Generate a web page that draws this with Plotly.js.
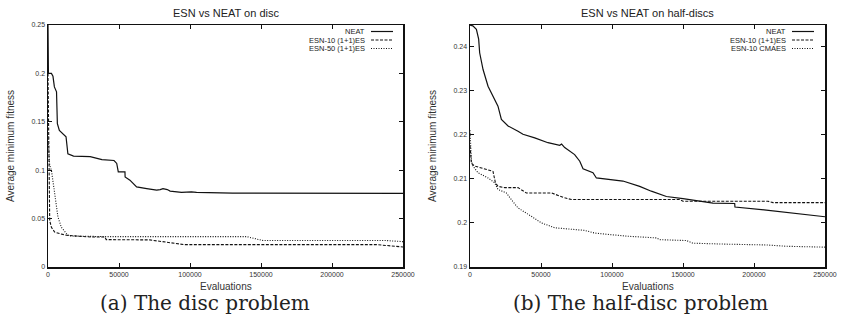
<!DOCTYPE html>
<html>
<head>
<meta charset="utf-8">
<script src="https://cdn.plot.ly/plotly-3.0.1.min.js"></script>
<style>html,body{margin:0;padding:0;background:#fff;} #chart{width:842px;height:320px;}</style>
</head>
<body>
<div id="chart"></div>
<script>
// ---- Data (a) disc problem ----
const discNeatX = [0, 100, 300, 2400, 3500, 4500, 6000, 6600, 8000, 12700, 14000, 18000, 29700, 38000, 46500, 48400, 49500, 54200, 54300, 57700, 62400, 69500, 76500, 79000, 81000, 84000, 86000, 94000, 101000, 104600, 130000, 250000];
const discNeatY = [0.25, 0.22, 0.2, 0.2, 0.197, 0.186, 0.181, 0.148, 0.141, 0.1346, 0.117, 0.1146, 0.114, 0.111, 0.110, 0.107, 0.0983, 0.0983, 0.093, 0.0897, 0.0828, 0.081, 0.0794, 0.080, 0.081, 0.080, 0.0784, 0.077, 0.0776, 0.077, 0.0763, 0.076];
const discEsn10X = [0, 500, 1000, 1200, 2400, 4700, 8200, 13000, 20000, 30000, 40000, 41000, 71700, 78700, 86000, 93500, 96000, 231500, 250000];
const discEsn10Y = [0.2, 0.12, 0.07, 0.048, 0.041, 0.036, 0.0345, 0.0328, 0.032, 0.031, 0.031, 0.0283, 0.028, 0.0266, 0.0255, 0.0238, 0.0231, 0.0231, 0.0207];
const discEsn50X = [0, 600, 1200, 2400, 3500, 4700, 7000, 9400, 13000, 15000, 40000, 139800, 151500, 238500, 250000];
const discEsn50Y = [0.135, 0.115, 0.105, 0.1, 0.09, 0.076, 0.0517, 0.041, 0.0345, 0.032, 0.0314, 0.0314, 0.0273, 0.0273, 0.0262];

// ---- Data (b) half-disc problem ----
const halfNeatX = [0, 2000, 4500, 6100, 6800, 9200, 12700, 17400, 19700, 22100, 26800, 33800, 37300, 45600, 54900, 63200, 64500, 66700, 73700, 77300, 79600, 86600, 89000, 107700, 119500, 127700, 138300, 150000, 171100, 186400, 186600, 208700, 232200, 250000];
const halfNeatY = [0.2449, 0.2447, 0.2439, 0.2417, 0.2386, 0.2348, 0.2310, 0.2280, 0.2265, 0.2235, 0.2220, 0.2208, 0.2201, 0.2193, 0.2182, 0.2176, 0.2179, 0.2171, 0.2155, 0.2140, 0.2123, 0.2114, 0.2102, 0.2095, 0.2083, 0.2072, 0.2060, 0.2055, 0.2045, 0.2044, 0.2036, 0.2029, 0.2021, 0.2014];
const halfEsnX = [0, 1000, 3300, 16200, 17900, 19700, 24500, 33800, 39700, 57300, 66700, 71400, 147700, 150000, 209900, 213400, 250000];
const halfEsnY = [0.2175, 0.2135, 0.2129, 0.2117, 0.2091, 0.2083, 0.2080, 0.2080, 0.2068, 0.2068, 0.2057, 0.2053, 0.2053, 0.2049, 0.2049, 0.2046, 0.2046];
const halfCmaX = [0, 1000, 2100, 5600, 12700, 17400, 19700, 25600, 29100, 33800, 43200, 50300, 59700, 71400, 80800, 87800, 110100, 131300, 133600, 152400, 157000, 178200, 208700, 222800, 250000];
const halfCmaY = [0.221, 0.214, 0.2129, 0.2114, 0.2102, 0.2091, 0.2076, 0.2068, 0.2053, 0.2034, 0.2015, 0.2000, 0.1989, 0.1985, 0.1983, 0.1977, 0.1970, 0.1966, 0.1962, 0.1960, 0.1954, 0.1952, 0.1950, 0.1947, 0.1945];

const discNames = ['NEAT', 'ESN-10 (1+1)ES', 'ESN-50 (1+1)ES'];
const halfNames = ['NEAT', 'ESN-10 (1+1)ES', 'ESN-10 CMAES'];
const panelTitles = ['ESN vs NEAT on disc', 'ESN vs NEAT on half-discs'];
const captions = ['(a) The disc problem', '(b) The half-disc problem'];
const xTitle = 'Evaluations';
const yTitle = 'Average minimum fitness';

const W = 842, H = 320;
const px = v => v / W, py = v => 1 - v / H;
const dashes = ['solid', '3px,1.5px', '1px,1.5px'];
const lineW = [1.2, 1.1, 1.1];

function tr(x, y, name, i, xa, ya) {
  return {x: x, y: y, name: name, type: 'scatter', mode: 'lines', xaxis: xa, yaxis: ya,
    line: {color: '#111', width: lineW[i], dash: dashes[i]}, showlegend: false, hoverinfo: 'skip'};
}

const data = [
  tr(discNeatX, discNeatY, discNames[0], 0, 'x', 'y'),
  tr(discEsn10X, discEsn10Y, discNames[1], 1, 'x', 'y'),
  tr(discEsn50X, discEsn50Y, discNames[2], 2, 'x', 'y'),
  tr(halfNeatX, halfNeatY, halfNames[0], 0, 'x2', 'y2'),
  tr(halfEsnX, halfEsnY, halfNames[1], 1, 'x2', 'y2'),
  tr(halfCmaX, halfCmaY, halfNames[2], 2, 'x2', 'y2')
];

const tickFont = {family: 'Liberation Sans, Arial, sans-serif', size: 7, color: '#333'};
function xax(dom, anchor) {
  return {domain: dom, anchor: anchor, range: [0, 250000], dtick: 50000, tick0: 0, tickformat: 'd',
    showline: true, linecolor: '#111', linewidth: 1.5, mirror: 'ticks', ticks: 'inside', ticklen: 4,
    tickcolor: '#111', tickwidth: 1, showgrid: false, zeroline: false, tickfont: tickFont};
}
function yax(dom, anchor, rng, dt) {
  return {domain: dom, anchor: anchor, range: rng, dtick: dt, tick0: 0,
    showline: true, linecolor: '#111', linewidth: 1.5, mirror: 'ticks', ticks: 'inside', ticklen: 4,
    tickcolor: '#111', tickwidth: 1, showgrid: false, zeroline: false, tickfont: tickFont};
}

const yDom = [py(267), py(25)];
const layout = {
  width: W, height: H, margin: {l: 0, r: 0, t: 0, b: 0},
  paper_bgcolor: '#fff', plot_bgcolor: '#fff', showlegend: false,
  xaxis: xax([px(48), px(403)], 'y'),
  yaxis: yax(yDom, 'x', [0, 0.25], 0.05),
  xaxis2: xax([px(470), px(825)], 'y2'),
  yaxis2: yax(yDom, 'x2', [0.19, 0.2449], 0.01),
  annotations: [],
  shapes: []
};

const sans = 'Liberation Sans, Arial, sans-serif';
const serif = 'DejaVu Serif, serif';
const panels = [{cx: 225.5, lx: 10, leg: 366, names: discNames, cap: 205},
                {cx: 647.5, lx: 432, leg: 787, names: halfNames, cap: 640}];
panels.forEach((p, k) => {
  layout.annotations.push({text: panelTitles[k], xref: 'paper', yref: 'paper', x: px(p.cx), y: py(13), showarrow: false,
    xanchor: 'center', yanchor: 'middle', font: {family: sans, size: 11, color: '#222'}});
  layout.annotations.push({text: xTitle, xref: 'paper', yref: 'paper', x: px(p.cx), y: py(286.5), showarrow: false,
    xanchor: 'center', yanchor: 'middle', font: {family: sans, size: 10, color: '#333'}});
  layout.annotations.push({text: yTitle, xref: 'paper', yref: 'paper', x: px(p.lx), y: py(146), showarrow: false,
    textangle: -90, xanchor: 'center', yanchor: 'middle', font: {family: sans, size: 10, color: '#333'}});
  layout.annotations.push({text: captions[k], xref: 'paper', yref: 'paper', x: px(p.cap), y: py(303), showarrow: false,
    xanchor: 'center', yanchor: 'middle', font: {family: serif, size: 20, color: '#222'}});
  p.names.forEach((n, i) => {
    const yy = 31.5 + i * 8.5;
    layout.annotations.push({text: n, xref: 'paper', yref: 'paper', x: px(p.leg), y: py(yy), showarrow: false,
      borderpad: 0, xanchor: 'right', yanchor: 'middle', font: {family: sans, size: 7.5, color: '#222'}});
    layout.shapes.push({type: 'line', xref: 'paper', yref: 'paper', x0: px(p.leg + 5), x1: px(p.leg + 27), y0: py(yy), y1: py(yy),
      line: {color: '#111', width: lineW[i], dash: dashes[i]}});
  });
});

Plotly.newPlot('chart', data, layout, {displayModeBar: false, staticPlot: true});
</script>
</body>
</html>
